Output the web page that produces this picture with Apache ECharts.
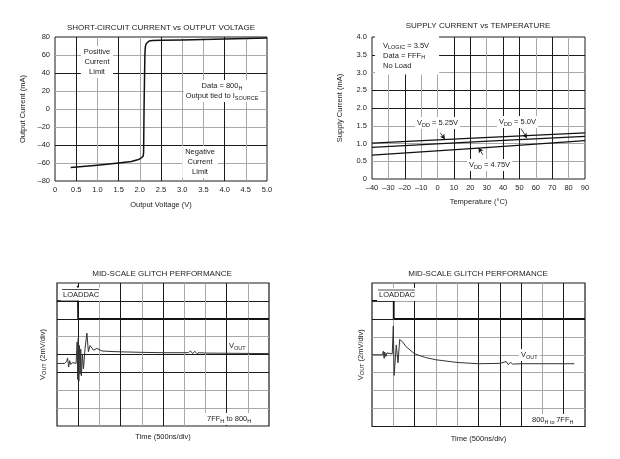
<!DOCTYPE html>
<html><head><meta charset="utf-8">
<script src="https://cdn.jsdelivr.net/npm/echarts@6/dist/echarts.min.js"></script>
<style>html,body{margin:0;padding:0;background:#fff}#c{width:620px;height:459px}</style>
</head><body><div id="c"></div>
<script>
// ---------- DATA ----------
// Chart 1: short-circuit current vs output voltage
const scVoltage = [0.37, 1.0, 1.5, 1.8, 1.95, 2.03, 2.08, 2.1, 2.09, 2.09, 2.1, 2.12, 2.13, 2.15, 2.18, 2.22, 2.3, 2.5, 3.0, 4.0, 5.0];
const scCurrent = [-65, -62.5, -60, -58.3, -56.5, -54.5, -52.5, -50.5, -48, -46, 0, 60, 69, 72.5, 74.5, 75.5, 76, 76.3, 76.8, 77.8, 79];
const scXTicks = ['0','0.5','1.0','1.5','2.0','2.5','3.0','3.5','4.0','4.5','5.0'];
const scYTicks = ['–80','–60','–40','–20','0','20','40','60','80'];

// Chart 2: supply current vs temperature
const tempC = [-40, 25, 90];
const idd525 = [1.01, 1.16, 1.30];
const idd500 = [0.89, 1.05, 1.20];
const idd475 = [0.67, 0.87, 1.08];
const tempTicks = ['–40','–30','–20','–10','0','10','20','30','40','50','60','70','80','90'];
const iddTicks = ['0','0.5','1.0','1.5','2.0','2.5','3.0','3.5','4.0'];
// annotation arrows [x1,y1,x2,y2] in data units
const arrows2 = [[1.7, 1.30, 4.5, 1.12], [51, 1.42, 54.5, 1.15], [27.7, 0.68, 25, 0.88]];

// Chart 3: glitch 7FF -> 800 (divisions)
const g1Time = [0, 0.35, 0.45, 0.5, 0.55, 0.6, 0.65, 0.75, 0.9, 0.95, 0.98, 1.0, 1.03, 1.06, 1.09, 1.12, 1.15, 1.2, 1.25, 1.32, 1.41, 1.48, 1.56, 1.72, 1.88, 2.12, 2.5, 3.0, 4.0, 5.0, 6.2, 6.3, 6.4, 6.5, 6.6, 6.7, 7.0, 8.0, 10.0];
const g1Vout = [3.5, 3.5, 3.6, 3.8, 3.3, 3.65, 3.45, 3.55, 3.5, 4.7, 2.6, 4.9, 2.5, 4.5, 2.9, 4.3, 2.8, 4.0, 3.2, 4.3, 5.2, 4.15, 4.5, 4.24, 4.34, 4.2, 4.17, 4.15, 4.12, 4.1, 4.1, 4.2, 4.05, 4.18, 4.05, 4.1, 4.08, 4.07, 4.05];
const g1LdTime = [0, 0.97, 0.97, 0.99, 10];
const g1LdLevel = [7, 7, 7.85, 6, 6];

// Chart 4: glitch 800 -> 7FF (divisions)
const g2Time = [0, 0.5, 0.53, 0.57, 0.6, 0.65, 0.7, 0.75, 0.95, 1.0, 1.04, 1.14, 1.22, 1.3, 1.45, 1.6, 2.0, 2.5, 3.0, 4.0, 5.0, 6.0, 6.3, 6.4, 6.5, 6.6, 7.0, 8.0, 9.5];
const g2Vout = [4.0, 4.0, 4.2, 3.8, 4.15, 3.9, 4.1, 4.0, 4.05, 5.6, 2.85, 4.55, 3.55, 4.85, 4.7, 4.45, 4.05, 3.85, 3.72, 3.57, 3.5, 3.52, 3.62, 3.45, 3.58, 3.48, 3.5, 3.5, 3.5];
const g2LdTime = [0, 1.02, 1.02, 10];
const g2LdLevel = [7, 7, 6, 6];

// ---------- STYLE ----------
const FF = '"Liberation Sans", Arial, sans-serif';
const TXT = '#222';
const K = '#1a1a1a', G = '#a8a8a8';
const FS = 7.5;
const subRich = {sub: {fontSize: 5.5, lineHeight: 6, verticalAlign: 'bottom', fontFamily: FF, color: TXT}};

const zip = (a, b) => a.map((v, i) => [v, b[i]]);

function gridLines(colors) {
  return {show: true, showMinLine: false, showMaxLine: false, lineStyle: {color: colors, width: 1}};
}
function valAxis(gi, min, max, interval, labels, colors, extra) {
  return Object.assign({
    type: 'value', gridIndex: gi, min, max, interval,
    axisLine: {show: false}, axisTick: {show: false},
    axisLabel: labels ? {
      fontFamily: FF, fontSize: FS, color: TXT, margin: 5,
      formatter: (v) => labels[Math.round((v - min) / interval)]
    } : {show: false},
    splitLine: gridLines(colors)
  }, extra || {});
}

const chart = echarts.init(document.getElementById('c'), null, {renderer: 'canvas'});

function txt(x, y, text, opts) {
  return Object.assign({
    type: 'text', x, y, z: 100,
    style: Object.assign({
      text, fill: TXT, fontFamily: FF, fontSize: FS, align: 'center', verticalAlign: 'middle',
      lineHeight: 10, rich: {sub: {fontSize: 5.5, lineHeight: 6, verticalAlign: 'bottom', fontFamily: FF, fill: TXT}}
    }, opts || {})
  });
}

const option = {
  animation: false,
  backgroundColor: '#fff',
  grid: [
    {left: 55, top: 37, width: 212, height: 144, show: true, borderColor: K, borderWidth: 1, backgroundColor: 'transparent'},
    {left: 372, top: 37, width: 213, height: 142, show: true, borderColor: K, borderWidth: 1, backgroundColor: 'transparent'},
    {left: 57, top: 283, width: 212, height: 143, show: true, borderColor: K, borderWidth: 1.2, backgroundColor: 'transparent'},
    {left: 372, top: 283, width: 213, height: 143.5, show: true, borderColor: K, borderWidth: 1.2, backgroundColor: 'transparent'}
  ],
  xAxis: [
    valAxis(0, 0, 5, 0.5, scXTicks, [K, G, K, G, K, G, G, K, G], {
      name: 'Output Voltage (V)', nameLocation: 'middle', nameGap: 20,
      nameTextStyle: {fontFamily: FF, fontSize: FS, color: TXT}}),
    valAxis(1, -40, 90, 10, tempTicks, [G, K, G, G, K, K, G, K, K, G, K, G], {
      name: 'Temperature (°C)', nameLocation: 'middle', nameGap: 19,
      nameTextStyle: {fontFamily: FF, fontSize: FS, color: TXT}}),
    valAxis(2, 0, 10, 1, null, [K, G, K, G, K, G, G, K, G], {
      name: 'Time (500ns/div)', nameLocation: 'middle', nameGap: 7,
      nameTextStyle: {fontFamily: FF, fontSize: FS, color: TXT}}),
    valAxis(3, 0, 10, 1, null, [G, K, G, G, K, K, K, G, K], {
      name: 'Time (500ns/div)', nameLocation: 'middle', nameGap: 8,
      nameTextStyle: {fontFamily: FF, fontSize: FS, color: TXT}})
  ],
  yAxis: [
    valAxis(0, -80, 80, 20, scYTicks, [G, K, G, G, G, K, G], {
      name: 'Output Current (mA)', nameLocation: 'middle', nameGap: 28,
      nameTextStyle: {fontFamily: FF, fontSize: FS, color: TXT}}),
    valAxis(1, 0, 4, 0.5, iddTicks, [G, G, G, K, K, G, K], {
      name: 'Supply Current (mA)', nameLocation: 'middle', nameGap: 28,
      nameTextStyle: {fontFamily: FF, fontSize: FS, color: TXT}}),
    valAxis(2, 0, 8, 1, null, [G, G, K, K, G, K, K], {
      name: 'V{sub|OUT} (2mV/div)', nameLocation: 'middle', nameGap: 10,
      nameTextStyle: {fontFamily: FF, fontSize: FS, color: TXT, rich: subRich}}),
    valAxis(3, 0, 8, 1, null, [G, G, G, G, G, K, G], {
      name: 'V{sub|OUT} (2mV/div)', nameLocation: 'middle', nameGap: 7,
      nameTextStyle: {fontFamily: FF, fontSize: FS, color: TXT, rich: subRich}})
  ],
  series: [
    {type: 'line', xAxisIndex: 0, yAxisIndex: 0, data: zip(scVoltage, scCurrent), showSymbol: false,
     lineStyle: {color: '#111', width: 1.5, join: 'round'}},
    {type: 'line', xAxisIndex: 1, yAxisIndex: 1, data: zip(tempC, idd525), showSymbol: false,
     lineStyle: {color: '#111', width: 1.3}},
    {type: 'line', xAxisIndex: 1, yAxisIndex: 1, data: zip(tempC, idd500), showSymbol: false,
     lineStyle: {color: '#111', width: 1.3}},
    {type: 'line', xAxisIndex: 1, yAxisIndex: 1, data: zip(tempC, idd475), showSymbol: false,
     lineStyle: {color: '#111', width: 1.3},
     markLine: {silent: true, symbol: ['none', 'arrow'], symbolSize: [4, 5], label: {show: false},
       lineStyle: {color: '#111', width: 0.8, type: 'solid'},
       data: arrows2.map(a => [{coord: [a[0], a[1]]}, {coord: [a[2], a[3]]}])}},
    {type: 'line', xAxisIndex: 2, yAxisIndex: 2, data: zip(g1LdTime, g1LdLevel), showSymbol: false,
     lineStyle: {color: '#111', width: 1.4}},
    {type: 'line', xAxisIndex: 2, yAxisIndex: 2, data: zip(g1Time, g1Vout), showSymbol: false,
     lineStyle: {color: '#333', width: 1}},
    {type: 'line', xAxisIndex: 3, yAxisIndex: 3, data: zip(g2LdTime, g2LdLevel), showSymbol: false,
     lineStyle: {color: '#111', width: 1.8}},
    {type: 'line', xAxisIndex: 3, yAxisIndex: 3, data: zip(g2Time, g2Vout), showSymbol: false,
     lineStyle: {color: '#333', width: 1}}
  ],
  graphic: [
    txt(161, 28, 'SHORT-CIRCUIT CURRENT vs OUTPUT VOLTAGE', {fontSize: 8}),
    txt(478, 26, 'SUPPLY CURRENT vs TEMPERATURE', {fontSize: 8}),
    txt(162, 274, 'MID-SCALE GLITCH PERFORMANCE', {fontSize: 8}),
    txt(478, 274, 'MID-SCALE GLITCH PERFORMANCE', {fontSize: 8}),
    // chart 1 notes
    txt(97, 62, 'Positive\nCurrent\nLimit', {backgroundColor: '#fff', padding: [1, 3]}),
    txt(222, 91, 'Data = 800{sub|H}\nOutput tied to I{sub|SOURCE}', {backgroundColor: '#fff', padding: [1, 2]}),
    txt(200, 162, 'Negative\nCurrent\nLimit', {backgroundColor: '#fff', padding: [1, 3]}),
    // chart 2 notes
    txt(375, 55, 'V{sub|LOGIC} = 3.5V\nData = FFF{sub|H}\nNo Load', {align: 'left', backgroundColor: '#fff', padding: [5, 10, 4, 8]}),
    txt(415, 123, 'V{sub|DD} = 5.25V', {align: 'left', backgroundColor: '#fff', padding: [1, 2]}),
    txt(497, 122, 'V{sub|DD} = 5.0V', {align: 'left', backgroundColor: '#fff', padding: [1, 2]}),
    txt(467, 165, 'V{sub|DD} = 4.75V', {align: 'left', backgroundColor: '#fff', padding: [1, 2]}),
    // chart 3 notes
    txt(61, 294, 'LOADDAC', {align: 'left', backgroundColor: '#fff', padding: [2, 2, 1, 2]}),
    {type: 'line', z: 101, shape: {x1: 62, y1: 289.5, x2: 99, y2: 289.5}, style: {stroke: TXT, lineWidth: 0.8}},
    txt(227, 346, 'V{sub|OUT}', {align: 'left', backgroundColor: '#fff', padding: [1, 2]}),
    txt(205, 419, '7FF{sub|H} to 800{sub|H}', {align: 'left', backgroundColor: '#fff', padding: [1, 2]}),
    // chart 4 notes
    txt(377, 294.5, 'LOADDAC', {align: 'left', backgroundColor: '#fff', padding: [2, 2, 1, 2]}),
    {type: 'line', z: 101, shape: {x1: 378, y1: 290, x2: 415, y2: 290}, style: {stroke: TXT, lineWidth: 0.8}},
    txt(519, 355, 'V{sub|OUT}', {align: 'left', backgroundColor: '#fff', padding: [1, 2]}),
    txt(530, 420, '800{sub|H to }7FF{sub|H}', {align: 'left', backgroundColor: '#fff', padding: [1, 2]})
  ]
};
chart.setOption(option);
</script></body></html>
